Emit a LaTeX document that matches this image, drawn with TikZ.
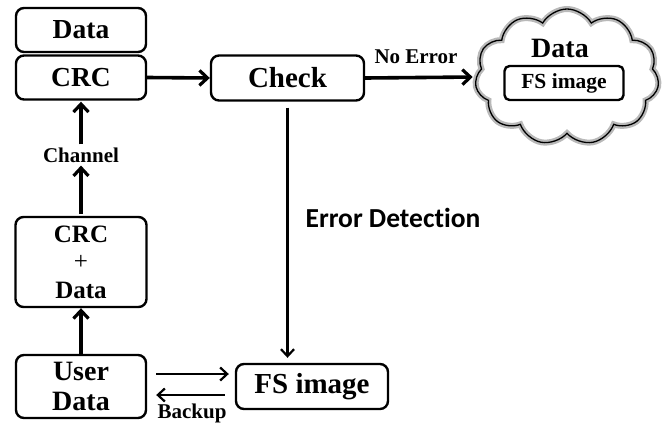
\documentclass[tikz,border=0pt]{standalone}
\usepackage{fontspec}
\setmainfont{Liberation Serif}
\newfontfamily\calibri[Ligatures=NoCommon]{Carlito}
\usetikzlibrary{arrows.meta,shapes.symbols}
\begin{document}
\begin{tikzpicture}[x=1pt,y=-1pt,
  box/.style={draw,line width=2.4pt,rounded corners=8pt,align=center,inner sep=0pt,font=\bfseries\fontsize{27.5}{27.5}\selectfont},
  thickarr/.style={line width=3.6pt,-{Straight Barb[length=8pt,width=15pt,line width=3.2pt]}},
  thinarr/.style={line width=2.2pt,-{Straight Barb[length=7pt,width=13pt,line width=2.2pt]}},
  lbl/.style={font=\bfseries\fontsize{21}{21}\selectfont,inner sep=0pt}]
\useasboundingbox (0,0) rectangle (668,426);
\node[box,minimum width=130pt,minimum height=44pt] (data1) at (81,30) {Data};
\node[box,minimum width=130pt,minimum height=44pt] (crc) at (81,77.5) {CRC};
\node[box,minimum width=153pt,minimum height=45pt,font=\bfseries\fontsize{29}{29}\selectfont] (check) at (287.5,78) {Check};
\node[box,minimum width=131pt,minimum height=90pt,font=\bfseries\fontsize{25}{31}\selectfont] (crcdata) at (81,262) {CRC\\[-4pt]{\mdseries+}\\[-2pt]Data};
\node[box,minimum width=130pt,minimum height=63pt,font=\bfseries\fontsize{28}{30}\selectfont] (user) at (81,386.5) {User\\Data};
\node[box,minimum width=152pt,minimum height=45pt,font=\bfseries\fontsize{29}{29}\selectfont] (fsimg) at (312,386.5) {FS image};
% cloud
\node[cloud,cloud puffs=11,cloud puff arc=120,aspect=1.35,minimum width=184pt,minimum height=136pt,draw=gray!55,line width=6pt] (cloud) at (567,77) {};
\node[cloud,cloud puffs=11,cloud puff arc=120,aspect=1.35,minimum width=184pt,minimum height=136pt,draw=black,line width=1.3pt] (cloudb) at (567,77) {};
\node[lbl,font=\bfseries\fontsize{28}{28}\selectfont] (cdata) at (560,48) {Data};
\node[box,minimum width=119pt,minimum height=34pt,font=\bfseries\fontsize{21.5}{21.5}\selectfont,rounded corners=5pt] (cfs) at (564,83) {FS image};
% labels
\node[lbl] (channel) at (81,155) {Channel};
\node[lbl] (noerr) at (416,57) {No Error};
\node[lbl] (backup) at (192,413) {Backup};
\node[font=\calibri\bfseries\fontsize{27.5}{27.5}\selectfont,inner sep=0pt] (errdet) at (393,218) {Error Detection};
% connectors
\draw[thickarr] (crc.east) -- (check.west);
\draw[thickarr,shorten >=3pt] (check.east) -- (cloudb.west);
\draw[thinarr,shorten <=6pt,shorten >=5pt] (check.south) -- (check.south |- fsimg.north);
\draw[thickarr,shorten <=2pt,shorten >=3pt] (crcdata.north) -- (channel.south);
\draw[thickarr,shorten <=3pt,shorten >=1pt] (channel.north) -- (crc.south);
\draw[thickarr] (user.north) -- (crcdata.south);
\draw[thinarr,shorten <=9pt,shorten >=6pt] ([yshift=12.5pt]user.east) -- ([yshift=12.5pt]user.east -| fsimg.west);
\draw[thinarr,line width=2.8pt,shorten <=10pt,shorten >=9pt] ([yshift=-8.5pt]fsimg.west) -- ([yshift=-8.5pt]fsimg.west -| user.east);
\end{tikzpicture}
\end{document}
